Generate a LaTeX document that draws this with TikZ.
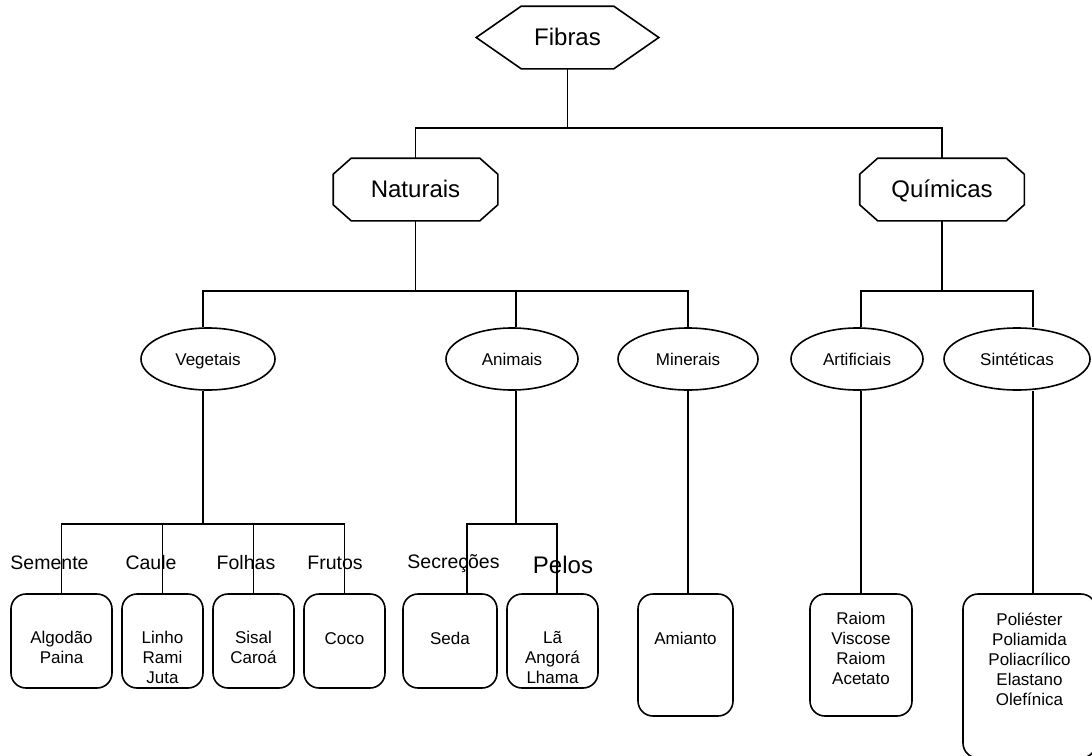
\documentclass[tikz,border=0pt]{standalone}
\usepackage{fontspec}
\setmainfont{Liberation Sans}
\usetikzlibrary{calc,shapes.geometric}
\newcommand{\drawocta}[1]{%
  \draw ($(#1.north west)+(18,0)$) -- ($(#1.north east)+(-18,0)$) -- ($(#1.north east)+(0,16)$)
    -- ($(#1.south east)+(0,-16)$) -- ($(#1.south east)+(-18,0)$) -- ($(#1.south west)+(18,0)$)
    -- ($(#1.south west)+(0,-16)$) -- ($(#1.north west)+(0,16)$) -- cycle;}
\begin{document}
\begin{tikzpicture}[x=1pt,y=-1pt,line width=1.6pt,
  bigtext/.style={font=\fontsize{24}{28}\selectfont, text height=16.5pt, text depth=0pt},
  shapebox/.style={inner sep=0pt, draw=none, minimum width=163pt, minimum height=61pt},
  oval/.style={ellipse, draw, inner sep=0pt, minimum height=62pt, font=\fontsize{17}{20}\selectfont, text height=12.2pt, text depth=0pt},
  leaf/.style={draw, rounded corners=15pt, inner sep=0pt},
  leaftext/.style={align=center, inner sep=0pt, anchor=north, font=\fontsize{17}{20}\selectfont, execute at begin node={\strut}},
  cat/.style={inner sep=0pt, font=\fontsize{19.5}{22}\selectfont, text height=14pt, text depth=0pt}]
\useasboundingbox (0,0) rectangle (1092,755);
\fill[white] (0,0) rectangle (1092,755);
\clip (0,0) rectangle (1092,755);

% top level
\node[shapebox, bigtext, minimum width=181pt] (fibras) at (567.5,37.5) {Fibras};
\draw (fibras.west) -- ($(fibras.north west)+(45,0)$) -- ($(fibras.north east)+(-45,0)$) -- (fibras.east)
  -- ($(fibras.south east)+(-45,0)$) -- ($(fibras.south west)+(45,0)$) -- cycle;

\node[shapebox, bigtext] (nat) at (415.5,189.5) {Naturais};
\drawocta{nat}
\node[shapebox, bigtext] (quim) at (942,189.5) {Químicas};
\drawocta{quim}

% ellipses
\node[oval, minimum width=134pt] (veg) at (208,359) {Vegetais};
\node[oval, minimum width=132pt] (ani) at (512,359) {Animais};
\node[oval, minimum width=140pt] (mine) at (688,359) {Minerais};
\node[oval, minimum width=132pt] (art) at (857,359) {Artificiais};
\node[oval, minimum width=146pt] (sint) at (1017,359) {Sintéticas};

% leaf boxes
\node[leaf, minimum width=101pt, minimum height=94pt] (b1) at (61.5,641) {};
\node[leaf, minimum width=81pt, minimum height=94pt] (b2) at (162.5,641) {};
\node[leaf, minimum width=81pt, minimum height=94pt] (b3) at (253.5,641) {};
\node[leaf, minimum width=81pt, minimum height=94pt] (b4) at (344.5,641) {};
\node[leaf, minimum width=94pt, minimum height=94pt] (seda) at (450,641) {};
\node[leaf, minimum width=91pt, minimum height=94pt] (la) at (552.5,641) {};
\node[leaf, minimum width=95pt, minimum height=122pt] (amianto) at (685.5,655) {};
\node[leaf, minimum width=102pt, minimum height=122pt] (raiom) at (861,655) {};
\node[leaf, minimum width=133pt, minimum height=164pt] (poli) at (1029.5,676) {};

% leaf texts
\node[leaftext] (t1) at (61.5,630) {Algodão\\Paina};
\node[leaftext] (t2) at (162.5,630) {Linho\\Rami\\Juta};
\node[leaftext] (t3) at (253.5,630) {Sisal\\Caroá};
\node[leaftext] (t4) at (344.5,630) {Coco};
\node[leaftext] (t5) at (450,630) {Seda};
\node[leaftext] (t6) at (552.5,630) {Lã\\Angorá\\Lhama};
\node[leaftext] (t7) at (685.5,630) {Amianto};
\node[leaftext] (t8) at (861,611) {Raiom\\Viscose\\Raiom\\Acetato};
\node[leaftext] (t9) at (1029.5,612) {Poliéster\\Poliamida\\Poliacrílico\\Elastano\\Olefínica};

% category labels
\node[cat] (l1) at (49.5,562) {Semente};
\node[cat] (l2) at (151,562) {Caule};
\node[cat] (l3) at (246,562) {Folhas};
\node[cat] (l4) at (335,562) {Frutos};
\node[cat] (l5) at (453.5,561) {Secreções};
\node[inner sep=0pt, bigtext] (l6) at (563,565) {Pelos};

% connectors
\coordinate (j0) at (567.5,128);
\draw (fibras.south) -- (j0);
\draw (j0) -| (nat.north);
\draw (j0) -| (quim.north);

\coordinate (j1) at (415.5,291);
\draw (nat.south) -- (j1);
\draw (j1) -| ($(veg.north)+(-5,0)$);
\draw (j1) -| ($(ani.north)+(4,0)$);
\draw (j1) -| (mine.north);

\coordinate (j2) at (942,291);
\draw (quim.south) -- (j2);
\draw (j2) -| ($(art.north)+(4,0)$);
\draw (j2) -| ($(sint.north)+(16,0)$);

\coordinate (jv) at (203,524);
\draw ($(veg.south)+(-5,0)$) -- (jv);
\draw (jv) -| (b1.north);
\draw (jv) -| (b2.north);
\draw (jv) -| (b3.north);
\draw (jv) -| (b4.north);

\coordinate (ja) at (516,524);
\draw ($(ani.south)+(4,0)$) -- (ja);
\draw (ja) -| ($(seda.north)+(17,0)$);
\draw (ja) -| ($(la.north)+(4.5,0)$);

\draw (mine.south) -- ($(amianto.north)+(2.5,0)$);
\draw ($(art.south)+(4,0)$) -- (raiom.north);
\draw ($(sint.south)+(16,0)$) -- ($(poli.north)+(3.5,0)$);
\end{tikzpicture}
\end{document}
